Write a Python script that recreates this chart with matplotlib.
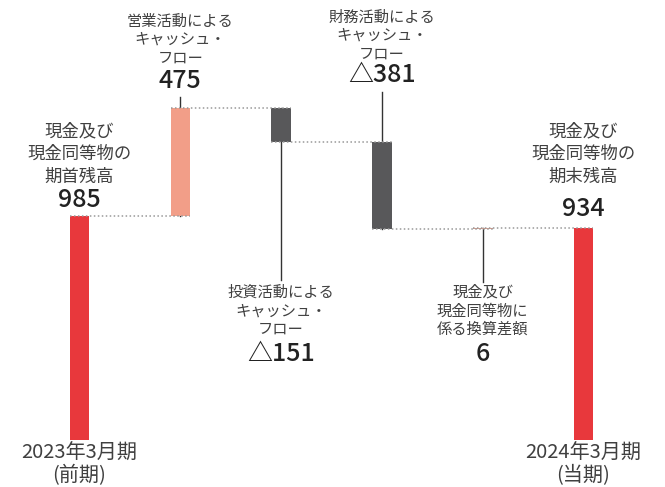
import numpy as np
import matplotlib
matplotlib.use('Agg')
import matplotlib.pyplot as plt

plt.rcParams['font.family'] = ['Noto Sans CJK JP', 'DejaVu Sans']

# 単位: 億円
start_value = 985
changes = [475, -151, -381, 6]
end_value = 934

start_name = '現金及び\n現金同等物の\n期首残高'
end_name = '現金及び\n現金同等物の\n期末残高'
change_names = ['営業活動による\nキャッシュ・\nフロー',
                '投資活動による\nキャッシュ・\nフロー',
                '財務活動による\nキャッシュ・\nフロー',
                '現金及び\n現金同等物に\n係る換算差額']
period_labels = ['2023年3月期\n(前期)', '2024年3月期\n(当期)']

RED = '#e8383c'
SALMON = '#f29e88'
DARK = '#58585a'
TXT = '#404040'
NUM = '#222222'

W, H = 665, 487
fig = plt.figure(figsize=(W/100, H/100), dpi=100)
ax = fig.add_axes([0, 0, 1, 1])
ax.set_xlim(-0.789, 5.808)
ax.set_ylim(-206.7, 1935)
ax.axis('off')

def px_to_y(px):
	# pixel from top -> data y
	y0, y1 = ax.get_ylim()
	return y0 + (H - px) / H * (y1 - y0)

def fmt(v):
	return ('△' + str(abs(v))) if v < 0 else str(v)

# bars
x = np.arange(len(changes) + 2)
levels = start_value + np.cumsum([0] + changes)
bottoms = [0]
heights = [start_value]
colors = [RED]
for i, c in enumerate(changes):
	prev = levels[i]
	bottoms.append(min(prev, prev + c))
	heights.append(abs(c))
	colors.append(SALMON if c > 0 else DARK)
bottoms.append(0)
heights.append(end_value)
colors.append(RED)

bw = 0.195
ax.bar(x, heights, bottom=bottoms, width=bw, color=colors, zorder=2)

# dotted connectors
for i in range(len(x) - 1):
	ax.plot([x[i] - bw/2, x[i+1] + bw/2], [levels[i], levels[i]],
			ls=(0, (1, 1.6)), color='#999999', lw=1.1, zorder=3)

# text layout (pixel rows from top)
def lines(xc, text, first_px, pitch, size):
	for k, s in enumerate(text.split('\n')):
		ax.text(xc, px_to_y(first_px + k*pitch), s, ha='center', va='center',
				fontsize=size, color=TXT)

def number(xc, v, px):
	ax.text(xc, px_to_y(px), fmt(v), ha='center', va='center',
			fontsize=18, color=NUM, fontweight='medium')

# start / end
lines(x[0], start_name, 131, 23, 12.5)
number(x[0], start_value, 200)
lines(x[-1], end_name, 131, 22.7, 12.5)
number(x[-1], end_value, 209)

# changes: (first line, number, leader end)
label_rows = [(21, 80.5, 97), (292.5, 354, 280), (17, 75, 92), (292.5, 354, 282)]
for i, c in enumerate(changes):
	xi = x[i + 1]
	first, num_px, lead_px = label_rows[i]
	lines(xi, change_names[i], first, 18.5, 11)
	number(xi, c, num_px)
	if lead_px < first:
		ax.plot([xi, xi], [px_to_y(lead_px), bottoms[i+1] + heights[i+1]],
				color='#333333', lw=1, zorder=1)
	else:
		ax.plot([xi, xi], [bottoms[i+1], px_to_y(lead_px)],
				color='#333333', lw=1, zorder=1)

# period labels
for xi, lab in zip([x[0], x[-1]], period_labels):
	for k, s in enumerate(lab.split('\n')):
		ax.text(xi, px_to_y(453 + k*23), s, ha='center', va='center',
				fontsize=14.5, color=TXT)

fig.savefig('out.png', dpi=100)
